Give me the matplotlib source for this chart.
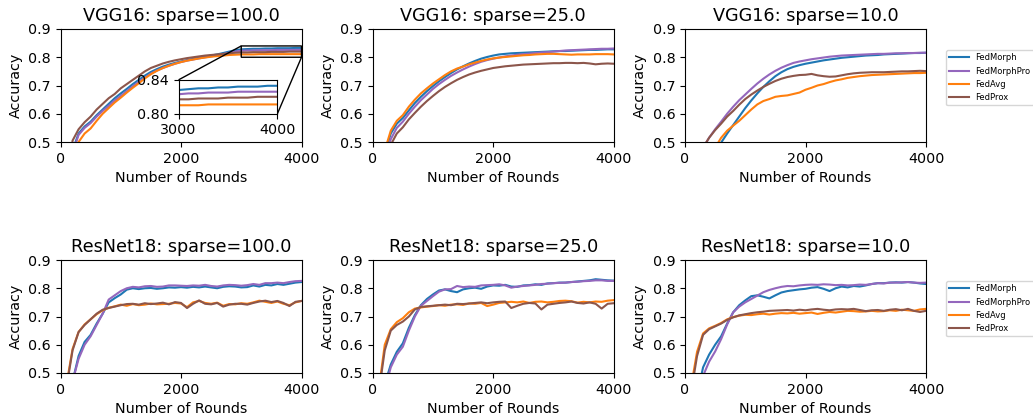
import matplotlib
matplotlib.use("Agg")
import matplotlib.pyplot as plt

plt.rcParams["font.size"] = 10.3

ROUNDS = list(range(0, 4001, 100))
METHODS = ["FedMorph", "FedMorphPro", "FedAvg", "FedProx"]
COLORS = ["tab:blue", "tab:purple", "tab:orange", "tab:brown"]

# VGG16, sparse=100.0
vgg_100_fedmorph = [0.10, 0.28, 0.47, 0.53, 0.555, 0.572, 0.595, 0.615, 0.635, 0.655, 0.672, 0.688, 0.705, 0.72, 0.735, 0.748, 0.758, 0.767, 0.774, 0.78, 0.785, 0.79, 0.794, 0.798, 0.802, 0.806, 0.81, 0.815, 0.82, 0.825, 0.828, 0.829, 0.83, 0.83, 0.831, 0.831, 0.832, 0.832, 0.832, 0.833, 0.833]
vgg_100_fedmorphpro = [0.10, 0.27, 0.46, 0.525, 0.55, 0.567, 0.59, 0.61, 0.628, 0.647, 0.663, 0.68, 0.697, 0.713, 0.728, 0.742, 0.753, 0.762, 0.77, 0.777, 0.783, 0.788, 0.792, 0.796, 0.80, 0.803, 0.807, 0.811, 0.816, 0.82, 0.823, 0.824, 0.824, 0.825, 0.825, 0.825, 0.826, 0.826, 0.826, 0.826, 0.826]
vgg_100_fedavg = [0.05, 0.20, 0.40, 0.50, 0.53, 0.548, 0.575, 0.60, 0.62, 0.64, 0.657, 0.675, 0.692, 0.708, 0.725, 0.74, 0.752, 0.762, 0.77, 0.777, 0.783, 0.788, 0.792, 0.796, 0.799, 0.802, 0.804, 0.806, 0.808, 0.809, 0.81, 0.81, 0.81, 0.811, 0.811, 0.811, 0.811, 0.811, 0.811, 0.811, 0.811]
vgg_100_fedprox = [0.10, 0.30, 0.505, 0.545, 0.57, 0.59, 0.615, 0.635, 0.655, 0.67, 0.69, 0.705, 0.72, 0.735, 0.75, 0.762, 0.77, 0.778, 0.784, 0.789, 0.793, 0.797, 0.80, 0.803, 0.806, 0.808, 0.81, 0.812, 0.814, 0.816, 0.817, 0.817, 0.818, 0.818, 0.818, 0.819, 0.819, 0.819, 0.82, 0.82, 0.82]

# VGG16, sparse=25.0
vgg_25_fedmorph = [0.10, 0.29, 0.46, 0.53, 0.565, 0.585, 0.612, 0.638, 0.66, 0.68, 0.698, 0.715, 0.73, 0.744, 0.757, 0.768, 0.778, 0.787, 0.795, 0.801, 0.806, 0.81, 0.812, 0.814, 0.815, 0.816, 0.817, 0.818, 0.819, 0.82, 0.821, 0.822, 0.822, 0.823, 0.824, 0.825, 0.826, 0.826, 0.827, 0.828, 0.828]
vgg_25_fedmorphpro = [0.10, 0.27, 0.44, 0.51, 0.55, 0.572, 0.60, 0.625, 0.648, 0.668, 0.688, 0.705, 0.72, 0.734, 0.746, 0.757, 0.767, 0.776, 0.784, 0.79, 0.795, 0.799, 0.803, 0.806, 0.809, 0.811, 0.813, 0.815, 0.817, 0.818, 0.82, 0.822, 0.824, 0.825, 0.826, 0.827, 0.828, 0.829, 0.83, 0.83, 0.831]
vgg_25_fedavg = [0.10, 0.30, 0.47, 0.54, 0.575, 0.595, 0.625, 0.65, 0.672, 0.69, 0.707, 0.722, 0.737, 0.75, 0.76, 0.767, 0.775, 0.781, 0.787, 0.792, 0.796, 0.799, 0.801, 0.803, 0.805, 0.807, 0.808, 0.81, 0.811, 0.812, 0.812, 0.811, 0.81, 0.809, 0.81, 0.81, 0.81, 0.811, 0.811, 0.811, 0.81]
vgg_25_fedprox = [0.05, 0.20, 0.38, 0.49, 0.53, 0.552, 0.58, 0.603, 0.625, 0.645, 0.663, 0.68, 0.695, 0.708, 0.72, 0.73, 0.739, 0.746, 0.752, 0.757, 0.762, 0.765, 0.768, 0.77, 0.772, 0.774, 0.775, 0.776, 0.777, 0.778, 0.779, 0.779, 0.78, 0.78, 0.779, 0.78, 0.778, 0.775, 0.777, 0.778, 0.777]

# VGG16, sparse=10.0
vgg_10_fedmorph = [0.05, 0.15, 0.25, 0.33, 0.40, 0.46, 0.498, 0.53, 0.56, 0.59, 0.62, 0.647, 0.672, 0.695, 0.715, 0.733, 0.747, 0.758, 0.766, 0.772, 0.777, 0.781, 0.785, 0.789, 0.792, 0.795, 0.798, 0.80, 0.802, 0.804, 0.806, 0.807, 0.808, 0.81, 0.811, 0.812, 0.813, 0.814, 0.815, 0.815, 0.816]
vgg_10_fedmorphpro = [0.10, 0.25, 0.38, 0.48, 0.515, 0.545, 0.572, 0.60, 0.625, 0.648, 0.668, 0.688, 0.707, 0.724, 0.739, 0.752, 0.763, 0.772, 0.78, 0.785, 0.789, 0.793, 0.796, 0.799, 0.802, 0.804, 0.806, 0.807, 0.808, 0.809, 0.81, 0.811, 0.812, 0.812, 0.813, 0.814, 0.814, 0.815, 0.815, 0.816, 0.816]
vgg_10_fedavg = [0.05, 0.15, 0.26, 0.35, 0.42, 0.48, 0.515, 0.54, 0.558, 0.575, 0.595, 0.615, 0.633, 0.645, 0.652, 0.66, 0.663, 0.665, 0.67, 0.675, 0.685, 0.692, 0.70, 0.705, 0.712, 0.718, 0.722, 0.727, 0.73, 0.733, 0.735, 0.737, 0.738, 0.739, 0.74, 0.741, 0.742, 0.743, 0.744, 0.744, 0.745]
vgg_10_fedprox = [0.10, 0.25, 0.38, 0.48, 0.515, 0.542, 0.565, 0.59, 0.61, 0.632, 0.652, 0.668, 0.682, 0.695, 0.706, 0.716, 0.724, 0.73, 0.734, 0.737, 0.738, 0.741, 0.736, 0.733, 0.731, 0.732, 0.736, 0.74, 0.743, 0.745, 0.746, 0.747, 0.747, 0.747, 0.748, 0.749, 0.75, 0.75, 0.751, 0.752, 0.751]

# ResNet18, sparse=100.0
res_100_fedmorph = [0.10, 0.30, 0.47, 0.56, 0.61, 0.635, 0.675, 0.71, 0.75, 0.765, 0.778, 0.795, 0.80, 0.797, 0.80, 0.801, 0.798, 0.80, 0.803, 0.802, 0.804, 0.802, 0.805, 0.803, 0.806, 0.803, 0.80, 0.805, 0.807, 0.806, 0.803, 0.804, 0.81, 0.806, 0.812, 0.81, 0.815, 0.812, 0.816, 0.82, 0.822]
res_100_fedmorphpro = [0.10, 0.30, 0.47, 0.55, 0.60, 0.63, 0.67, 0.71, 0.76, 0.775, 0.79, 0.80, 0.805, 0.803, 0.807, 0.808, 0.805, 0.806, 0.81, 0.81, 0.809, 0.808, 0.81, 0.809, 0.812, 0.808, 0.806, 0.81, 0.812, 0.811, 0.809, 0.811, 0.815, 0.812, 0.818, 0.818, 0.82, 0.818, 0.822, 0.825, 0.826]
res_100_fedavg = [0.20, 0.46, 0.585, 0.645, 0.672, 0.69, 0.708, 0.722, 0.731, 0.736, 0.742, 0.738, 0.744, 0.74, 0.742, 0.746, 0.743, 0.744, 0.745, 0.748, 0.746, 0.733, 0.75, 0.755, 0.748, 0.745, 0.749, 0.738, 0.744, 0.743, 0.747, 0.745, 0.75, 0.756, 0.752, 0.748, 0.753, 0.745, 0.74, 0.75, 0.755]
res_100_fedprox = [0.20, 0.45, 0.58, 0.645, 0.67, 0.69, 0.71, 0.724, 0.73, 0.735, 0.74, 0.744, 0.745, 0.742, 0.747, 0.744, 0.746, 0.749, 0.743, 0.751, 0.748, 0.73, 0.745, 0.757, 0.745, 0.743, 0.748, 0.735, 0.742, 0.745, 0.745, 0.742, 0.748, 0.753, 0.756, 0.751, 0.755, 0.748, 0.737, 0.752, 0.755]

# ResNet18, sparse=25.0
res_25_fedmorph = [0.10, 0.28, 0.46, 0.53, 0.575, 0.605, 0.66, 0.705, 0.74, 0.762, 0.778, 0.792, 0.796, 0.79, 0.786, 0.796, 0.80, 0.802, 0.798, 0.806, 0.81, 0.809, 0.812, 0.806, 0.805, 0.81, 0.811, 0.814, 0.812, 0.817, 0.818, 0.82, 0.82, 0.822, 0.824, 0.826, 0.828, 0.832, 0.83, 0.828, 0.827]
res_25_fedmorphpro = [0.10, 0.27, 0.44, 0.52, 0.565, 0.593, 0.65, 0.70, 0.738, 0.755, 0.772, 0.788, 0.796, 0.797, 0.808, 0.804, 0.806, 0.805, 0.81, 0.811, 0.812, 0.814, 0.81, 0.802, 0.806, 0.808, 0.81, 0.812, 0.815, 0.816, 0.818, 0.819, 0.82, 0.822, 0.823, 0.825, 0.826, 0.828, 0.828, 0.826, 0.826]
res_25_fedavg = [0.20, 0.44, 0.60, 0.655, 0.68, 0.694, 0.715, 0.728, 0.732, 0.735, 0.737, 0.74, 0.738, 0.742, 0.743, 0.741, 0.746, 0.745, 0.748, 0.737, 0.742, 0.748, 0.75, 0.752, 0.75, 0.753, 0.748, 0.752, 0.753, 0.75, 0.752, 0.755, 0.756, 0.754, 0.749, 0.752, 0.75, 0.753, 0.752, 0.756, 0.758]
res_25_fedprox = [0.20, 0.43, 0.58, 0.65, 0.67, 0.682, 0.70, 0.725, 0.734, 0.736, 0.738, 0.74, 0.742, 0.74, 0.745, 0.744, 0.746, 0.748, 0.75, 0.747, 0.75, 0.752, 0.753, 0.73, 0.738, 0.745, 0.748, 0.746, 0.725, 0.742, 0.745, 0.748, 0.75, 0.753, 0.748, 0.746, 0.75, 0.745, 0.728, 0.745, 0.747]

# ResNet18, sparse=10.0
res_10_fedmorph = [0.10, 0.28, 0.42, 0.52, 0.565, 0.60, 0.63, 0.675, 0.715, 0.74, 0.757, 0.772, 0.775, 0.77, 0.764, 0.775, 0.785, 0.79, 0.793, 0.796, 0.798, 0.802, 0.804, 0.798, 0.79, 0.80, 0.806, 0.803, 0.808, 0.806, 0.81, 0.815, 0.818, 0.818, 0.82, 0.821, 0.82, 0.822, 0.82, 0.817, 0.815]
res_10_fedmorphpro = [0.10, 0.25, 0.39, 0.49, 0.54, 0.576, 0.62, 0.672, 0.715, 0.735, 0.75, 0.762, 0.774, 0.786, 0.794, 0.80, 0.805, 0.808, 0.807, 0.81, 0.812, 0.813, 0.812, 0.814, 0.813, 0.811, 0.812, 0.81, 0.811, 0.813, 0.812, 0.815, 0.818, 0.817, 0.82, 0.82, 0.821, 0.822, 0.82, 0.819, 0.82]
res_10_fedavg = [0.20, 0.45, 0.575, 0.64, 0.658, 0.667, 0.677, 0.69, 0.698, 0.703, 0.706, 0.705, 0.708, 0.71, 0.707, 0.71, 0.712, 0.711, 0.713, 0.71, 0.712, 0.714, 0.709, 0.713, 0.716, 0.714, 0.717, 0.72, 0.719, 0.717, 0.718, 0.72, 0.718, 0.719, 0.722, 0.72, 0.724, 0.722, 0.72, 0.725, 0.727]
res_10_fedprox = [0.20, 0.43, 0.56, 0.635, 0.655, 0.665, 0.675, 0.688, 0.697, 0.704, 0.708, 0.712, 0.715, 0.717, 0.72, 0.721, 0.722, 0.723, 0.721, 0.724, 0.722, 0.725, 0.727, 0.724, 0.722, 0.725, 0.726, 0.725, 0.727, 0.723, 0.719, 0.722, 0.723, 0.72, 0.724, 0.726, 0.722, 0.727, 0.72, 0.716, 0.72]

panels = [
    ("VGG16: sparse=100.0", [vgg_100_fedmorph, vgg_100_fedmorphpro, vgg_100_fedavg, vgg_100_fedprox]),
    ("VGG16: sparse=25.0", [vgg_25_fedmorph, vgg_25_fedmorphpro, vgg_25_fedavg, vgg_25_fedprox]),
    ("VGG16: sparse=10.0", [vgg_10_fedmorph, vgg_10_fedmorphpro, vgg_10_fedavg, vgg_10_fedprox]),
    ("ResNet18: sparse=100.0", [res_100_fedmorph, res_100_fedmorphpro, res_100_fedavg, res_100_fedprox]),
    ("ResNet18: sparse=25.0", [res_25_fedmorph, res_25_fedmorphpro, res_25_fedavg, res_25_fedprox]),
    ("ResNet18: sparse=10.0", [res_10_fedmorph, res_10_fedmorphpro, res_10_fedavg, res_10_fedprox]),
]

fig = plt.figure(figsize=(10.33, 4.17), dpi=100)
lefts = [60.5, 372.7, 685]
tops = [29, 260]
W, H = 1033, 417
axes = []
for i, (title, series) in enumerate(panels):
    row, col = divmod(i, 3)
    ax = fig.add_axes([lefts[col] / W, 1 - (tops[row] + 113) / H, 241 / W, 113 / H])
    for name, color, vals in zip(METHODS, COLORS, series):
        ax.plot(ROUNDS, vals, color=color, label=name, lw=1.5)
    ax.set_xlim(0, 4000)
    ax.set_ylim(0.5, 0.9)
    ax.set_xticks([0, 2000, 4000])
    ax.set_yticks([0.5, 0.6, 0.7, 0.8, 0.9])
    ax.set_title(title, fontsize=12.7)
    ax.set_xlabel("Number of Rounds")
    ax.set_ylabel("Accuracy")
    if col == 2:
        ax.legend(loc="upper left", bbox_to_anchor=(1.083, 0.814), borderaxespad=0,
                  fontsize=6, handlelength=2.4, handletextpad=0.7)
    axes.append(ax)

# zoomed inset for the first panel
ax0 = axes[0]
axins = ax0.inset_axes([0.49, 0.25, 0.41, 0.30])
for name, color, vals in zip(METHODS, COLORS, panels[0][1]):
    axins.plot(ROUNDS, vals, color=color, lw=1.5)
axins.set_xlim(3000, 4000)
axins.set_ylim(0.80, 0.84)
axins.set_xticks([3000, 4000])
axins.set_yticks([0.80, 0.84])
ax0.indicate_inset_zoom(axins, edgecolor="black", alpha=1)

fig.savefig("out.png", dpi=100)
